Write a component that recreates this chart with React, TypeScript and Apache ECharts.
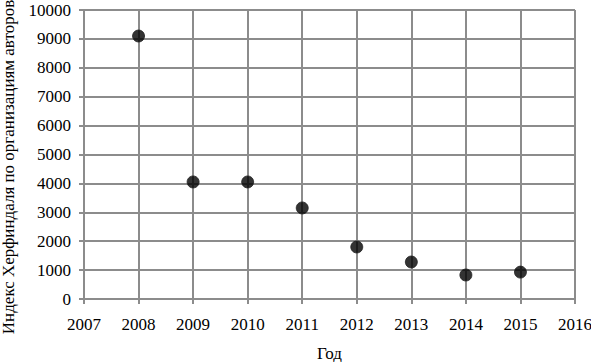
import React, { useEffect, useRef } from "react";
import * as echarts from "echarts";

const years = [2008, 2009, 2010, 2011, 2012, 2013, 2014, 2015];
const hhi = [9100, 4050, 4050, 3150, 1800, 1280, 830, 930];
const xTicks = [2007, 2016];
const yRange = [0, 10000];
const yTitle = "Индекс Херфиндаля по организациям авторов";
const xTitle = "Год";

export default function App() {
  const ref = useRef<HTMLDivElement>(null);
  useEffect(() => {
    const chart = echarts.init(ref.current!, undefined, { renderer: "svg" });
    const font = "Liberation Serif, Times New Roman, serif";
    const lineColor = "#8c8c8c";
    chart.setOption({
      animation: false,
      backgroundColor: "#fff",
      textStyle: { fontFamily: font },
      grid: { left: 84, right: 16, top: 10, bottom: 63, outerBoundsMode: "none", containLabel: false },
      graphic: [
        {
          type: "text",
          x: 8,
          y: 167,
          rotation: Math.PI / 2,
          style: {
            text: yTitle,
            fontFamily: font,
            fontSize: 17,
            fill: "#000",
            textAlign: "center",
            textVerticalAlign: "middle",
          },
        },
      ],
      xAxis: {
        type: "value",
        min: xTicks[0],
        max: xTicks[1],
        interval: 1,
        name: xTitle,
        nameLocation: "middle",
        nameGap: 46,
        nameTextStyle: { fontFamily: font, fontSize: 17, color: "#000" },
        axisLine: { show: true, lineStyle: { color: lineColor, width: 2 } },
        axisTick: { show: true, inside: false, length: 5, lineStyle: { color: lineColor, width: 2 } },
        axisLabel: { fontFamily: font, fontSize: 17, color: "#000", margin: 17, formatter: (v: number) => String(v) },
        splitLine: { show: true, lineStyle: { color: lineColor, width: 2 } },
      },
      yAxis: {
        type: "value",
        min: yRange[0],
        max: yRange[1],
        interval: 1000,
        axisLine: { show: true, lineStyle: { color: lineColor, width: 2 } },
        axisTick: { show: true, inside: false, length: 5, lineStyle: { color: lineColor, width: 2 } },
        axisLabel: { fontFamily: font, fontSize: 17, color: "#000", margin: 13, formatter: (v: number) => String(v) },
        splitLine: { show: true, lineStyle: { color: lineColor, width: 2 } },
      },
      series: [
        {
          type: "scatter",
          data: years.map((y, i) => [y, hhi[i]]),
          symbol: "circle",
          symbolSize: 12,
          itemStyle: { color: "#000", borderColor: "#222", borderWidth: 1 },
        },
      ],
    });
    return () => chart.dispose();
  }, []);
  return <div ref={ref} style={{ width: 591, height: 362, position: "absolute", left: 0, top: 0 }} />;
}
